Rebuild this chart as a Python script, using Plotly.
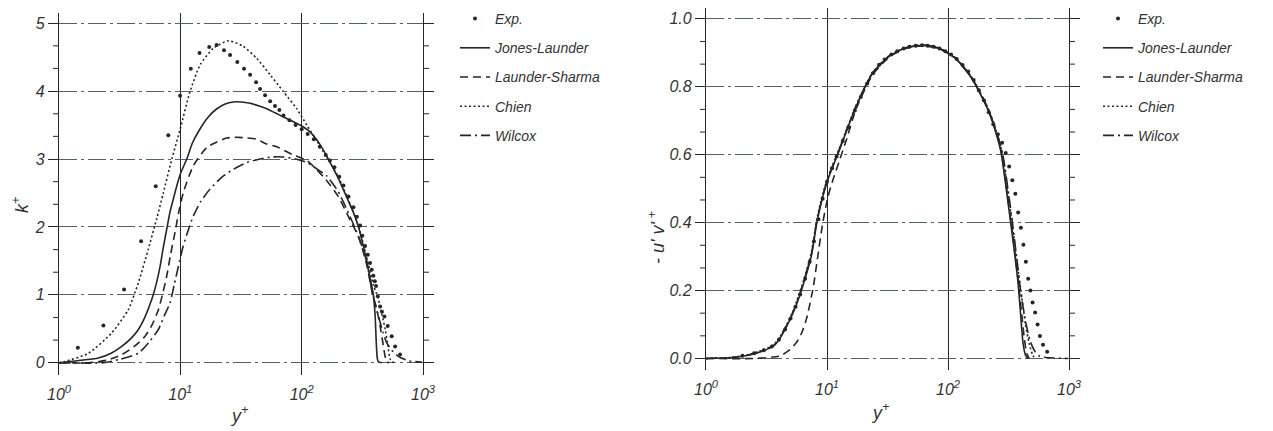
import plotly.graph_objects as go

# ---------------- Left panel: k+ vs y+ ----------------
k_exp_y = [1.43, 2.32, 3.44, 4.75, 6.27, 7.96, 9.95, 12.2, 14.4, 17.3, 19.9, 22.9, 25.7, 29.5, 33.5,
           37.6, 42.1, 45.4, 49.9, 55.0, 60.3, 65.5, 70.8, 79.4, 89.1, 100, 112, 126, 141, 158,
           171, 186, 204, 221, 243, 267, 285, 303, 316, 333, 351, 366, 378, 390, 401,
           410, 424, 443, 459, 481, 512, 552, 589, 647]
k_exp_v = [0.22, 0.55, 1.08, 1.79, 2.60, 3.35, 3.93, 4.33, 4.56, 4.65, 4.68, 4.60, 4.53, 4.43, 4.33,
           4.24, 4.13, 4.03, 3.94, 3.85, 3.78, 3.72, 3.64, 3.57, 3.50, 3.44, 3.37, 3.29, 3.18, 3.06,
           2.98, 2.88, 2.74, 2.61, 2.45, 2.29, 2.15, 2.02, 1.87, 1.72, 1.59, 1.47, 1.37, 1.28, 1.20,
           1.13, 0.98, 0.83, 0.75, 0.68, 0.54, 0.39, 0.24, 0.12]

k_jl_y = [1.0, 1.41, 2.11, 2.69, 3.29, 3.98, 4.51, 5.13, 5.81, 6.31, 6.81, 7.24, 7.73, 8.22, 8.75,
          9.33, 10.0, 11.3, 12.6, 14.6, 17.0, 20.0, 23.4, 27.4, 31.6, 37.6, 44.7, 51.5, 60.3, 70.8,
          83.2, 97.0, 117, 141, 166, 200, 240, 269, 294, 324, 355, 376, 390, 403, 412, 419, 427, 457]
k_jl_v = [0.0, 0.03, 0.07, 0.14, 0.24, 0.37, 0.49, 0.68, 0.93, 1.15, 1.42, 1.70, 1.97, 2.22, 2.41,
          2.60, 2.78, 3.0, 3.24, 3.45, 3.62, 3.74, 3.81, 3.84, 3.84, 3.82, 3.78, 3.74, 3.68, 3.62,
          3.56, 3.50, 3.40, 3.22, 3.0, 2.72, 2.40, 2.20, 2.0, 1.70, 1.37, 1.15, 1.0, 0.7, 0.3, 0.08, 0.02, 0.0]

k_ls_y = [1.0, 1.75, 2.51, 3.29, 4.17, 5.12, 5.89, 6.59, 7.16, 7.73, 8.32, 9.04, 9.66, 10.6, 12.8,
          16.5, 20.0, 24.1, 29.2, 35.2, 42.7, 51.5, 62.4, 85.1, 110, 132, 158, 200, 251, 295,
          343, 385, 417, 442, 462, 484, 501, 525]
k_ls_v = [0.0, 0.0, 0.04, 0.12, 0.24, 0.39, 0.57, 0.78, 1.02, 1.28, 1.60, 1.92, 2.20, 2.51, 2.90,
          3.17, 3.25, 3.31, 3.32, 3.31, 3.29, 3.22, 3.18, 3.06, 2.98, 2.85, 2.70, 2.45, 2.10, 1.85,
          1.45, 1.0, 0.78, 0.55, 0.35, 0.12, 0.02, 0.0]

k_ch_y = [1.0, 1.12, 1.75, 2.72, 3.72, 4.51, 5.44, 6.38, 7.24, 8.51, 10.0, 12.0, 14.6, 18.7, 24.9,
          33.0, 42.7, 55.0, 70.8, 91.2, 110, 132, 158, 200, 240, 295, 355, 389, 427, 457,
          488, 513, 537, 575]
k_ch_v = [0.0, 0.02, 0.14, 0.44, 0.78, 1.18, 1.67, 2.12, 2.50, 3.0, 3.45, 3.99, 4.39, 4.63, 4.74,
          4.66, 4.48, 4.24, 3.99, 3.74, 3.50, 3.28, 3.05, 2.74, 2.42, 2.0, 1.45, 1.15, 0.95, 0.72,
          0.5, 0.25, 0.05, 0.0]

k_wi_y = [1.0, 2.32, 3.16, 4.51, 5.50, 6.59, 7.41, 8.22, 8.91, 9.64, 10.5, 11.5, 12.8, 14.8, 17.6,
          21.9, 27.4, 35.5, 45.4, 56.2, 70.6, 89.1, 110, 132, 161, 200, 251, 295, 343, 380,
          427, 468, 501, 550, 631, 759, 977]
k_wi_v = [0.0, 0.0, 0.05, 0.14, 0.30, 0.49, 0.70, 0.88, 1.15, 1.42, 1.70, 1.93, 2.16, 2.38, 2.56,
          2.73, 2.85, 2.95, 3.0, 3.03, 3.03, 3.0, 2.95, 2.86, 2.75, 2.52, 2.15, 1.85, 1.50, 1.05,
          0.70, 0.45, 0.30, 0.19, 0.09, 0.03, 0.01]

# ---------------- Right panel: -u'v'+ vs y+ ----------------
uv_exp_y = [2.0, 2.5, 3.0, 3.5, 4.0, 4.5, 5.0, 5.5, 6.0, 6.6, 7.2, 7.8, 8.5, 9.2, 10.0, 11.0, 12.0,
            13.5, 15.0, 17.0, 19.0, 21.5, 24.0, 27.0, 30.0, 34.0, 38.0, 43.0, 48.0, 54.0, 61.0,
            68.0, 76.0, 85.0, 95.0, 106, 118, 132, 147, 163, 180, 198, 217, 237, 258, 280, 300,
            320, 340, 360, 380, 400, 420, 440, 460, 480, 500, 525, 550, 575, 610, 660]
uv_exp_v = [0.008, 0.015, 0.024, 0.035, 0.055, 0.085, 0.118, 0.152, 0.188, 0.235, 0.285, 0.345,
            0.41, 0.47, 0.52, 0.56, 0.595, 0.64, 0.68, 0.73, 0.77, 0.81, 0.84, 0.865, 0.88, 0.895,
            0.905, 0.913, 0.918, 0.921, 0.922, 0.921, 0.918, 0.913, 0.905, 0.895, 0.882, 0.864,
            0.845, 0.82, 0.79, 0.76, 0.725, 0.69, 0.66, 0.635, 0.605, 0.565, 0.525, 0.485, 0.43,
            0.385, 0.335, 0.285, 0.235, 0.20, 0.165, 0.135, 0.10, 0.066, 0.04, 0.02]

uv_jl_y = [1.0, 1.58, 2.29, 2.96, 3.61, 4.06, 4.57, 5.24, 5.75, 6.31, 7.41, 8.24, 9.23, 10.2, 12.7,
           17.4, 23.8, 32.7, 44.7, 61.2, 83.2, 115, 157, 214, 251, 275, 324, 355, 380, 398,
           417, 437, 457]
uv_jl_v = [0.0, 0.002, 0.01, 0.022, 0.036, 0.058, 0.09, 0.134, 0.17, 0.213, 0.30, 0.40, 0.477, 0.528,
           0.615, 0.742, 0.84, 0.89, 0.914, 0.922, 0.914, 0.884, 0.825, 0.732, 0.66, 0.605, 0.42,
           0.31, 0.22, 0.13, 0.045, 0.01, 0.0]

uv_ls_y = [1.0, 2.51, 4.06, 4.79, 5.57, 6.17, 6.75, 7.64, 8.39, 9.23, 10.2, 11.2, 12.6, 14.5, 17.4,
           23.8, 32.7, 44.7, 61.2, 83.2, 115, 157, 214, 251, 275, 324, 355, 380, 407, 427, 447, 468]
uv_ls_v = [0.0, 0.0, 0.007, 0.022, 0.046, 0.075, 0.115, 0.203, 0.30, 0.40, 0.477, 0.526, 0.58, 0.645,
           0.735, 0.835, 0.888, 0.913, 0.921, 0.913, 0.884, 0.826, 0.735, 0.665, 0.61, 0.43, 0.32,
           0.23, 0.13, 0.06, 0.015, 0.0]

uv_ch_y = [1.0, 1.58, 2.29, 2.96, 3.61, 4.06, 4.57, 5.24, 5.75, 6.31, 7.41, 8.24, 9.23, 10.2, 12.7,
           17.4, 23.8, 32.7, 44.7, 61.2, 83.2, 115, 157, 214, 251, 282, 316, 347, 380, 407,
           437, 468, 501, 525]
uv_ch_v = [0.0, 0.003, 0.012, 0.025, 0.04, 0.062, 0.095, 0.14, 0.18, 0.222, 0.31, 0.41, 0.485, 0.535,
           0.62, 0.745, 0.842, 0.892, 0.915, 0.923, 0.915, 0.886, 0.828, 0.737, 0.67, 0.60, 0.48,
           0.37, 0.26, 0.18, 0.10, 0.045, 0.01, 0.0]

uv_wi_y = [1.0, 1.58, 2.29, 2.96, 3.61, 4.06, 4.57, 5.24, 5.75, 6.31, 7.41, 8.24, 9.23, 10.2, 12.7,
           17.4, 23.8, 32.7, 44.7, 61.2, 83.2, 115, 157, 214, 251, 282, 324, 363, 398, 437,
           479, 525, 575, 692, 977]
uv_wi_v = [0.0, 0.002, 0.011, 0.024, 0.038, 0.06, 0.092, 0.137, 0.175, 0.218, 0.305, 0.405, 0.48,
           0.532, 0.618, 0.744, 0.841, 0.891, 0.915, 0.923, 0.915, 0.885, 0.827, 0.736, 0.668,
           0.605, 0.46, 0.32, 0.2, 0.11, 0.05, 0.02, 0.006, 0.002, 0.0]

names = ["Exp.", "Jones-Launder", "Launder-Sharma", "Chien", "Wilcox"]
x_tickvals = [1, 10, 100, 1000]
x_ticktext = ["10<sup>0</sup>", "10<sup>1</sup>", "10<sup>2</sup>", "10<sup>3</sup>"]
k_tick_step = 1
uv_tick_step = 0.2
k_ntick = 5
uv_ntick = 5
k_range = [-0.18, 5.15]
uv_range = [-0.034, 1.032]

INK = "#262626"
GRID_H = "#4f6274"
FONT = "Liberation Sans"

dashes = {"Jones-Launder": "solid", "Launder-Sharma": "8px,5px", "Chien": "2px,2.5px",
          "Wilcox": "11px,4px,2px,4px"}

fig = go.Figure()

def add_panel(xa, ya, legend, exp, curves):
    fig.add_trace(go.Scatter(x=exp[0], y=exp[1], mode="markers", name=names[0],
                             marker=dict(size=4, color=INK), xaxis=xa, yaxis=ya,
                             legend=legend, legendgroup=legend + names[0]))
    for nm, (xx, yy) in zip(names[1:], curves):
        fig.add_trace(go.Scatter(x=xx, y=yy, mode="lines", name=nm,
                                 line=dict(color=INK, width=1.6, dash=dashes[nm], shape="spline",
                                           smoothing=0.6),
                                 xaxis=xa, yaxis=ya, legend=legend, legendgroup=legend + nm))

add_panel("x", "y", "legend", (k_exp_y, k_exp_v),
          [(k_jl_y, k_jl_v), (k_ls_y, k_ls_v), (k_ch_y, k_ch_v), (k_wi_y, k_wi_v)])
add_panel("x2", "y2", "legend2", (uv_exp_y, uv_exp_v),
          [(uv_jl_y, uv_jl_v), (uv_ls_y, uv_ls_v), (uv_ch_y, uv_ch_v), (uv_wi_y, uv_wi_v)])

W, H = 1273, 431
L_DOM = [59 / W, 423 / W]
R_DOM = [706 / W, 1069 / W]
tickfont = dict(family=FONT, size=16, color="#333333", style="italic")

def xaxis(dom, anchor):
    return dict(domain=dom, anchor=anchor, type="log", range=[0, 3], tickvals=x_tickvals,
                ticktext=x_ticktext, showgrid=True, gridcolor=INK, gridwidth=1.2,
                showline=False, zeroline=False, ticks="outside", ticklen=5,
                tickcolor="rgba(0,0,0,0)", tickfont=tickfont, automargin=False)

def yaxis(dom, anchor, rng, step, fmt):
    return dict(domain=dom, anchor=anchor, range=rng, tickmode="linear", tick0=0, dtick=step,
                tickformat=fmt, automargin=False,
                showgrid=True, gridcolor=GRID_H, gridwidth=1.3, griddash="18px,4px,3px,4px",
                zeroline=False, showline=True, linecolor=INK, linewidth=1.3, mirror="ticks",
                ticks="outside", ticklen=10, tickwidth=1.3, tickcolor=INK, tickfont=tickfont)

# minor tick marks (one third of a major step) on both vertical frame lines
MINOR_LEN = 6 / W
def add_minor_ticks(yref, dom, step, nmajor):
    for i in range(nmajor):
        for j in (1, 2):
            v = (i + j / 3) * step
            for x0, x1 in ((dom[0] - MINOR_LEN, dom[0]), (dom[1], dom[1] + MINOR_LEN)):
                fig.add_shape(type="line", xref="paper", yref=yref, x0=x0, x1=x1, y0=v, y1=v,
                              line=dict(color="#3a3a3a", width=1.1), layer="above")

add_minor_ticks("y", L_DOM, k_tick_step, k_ntick)
add_minor_ticks("y2", R_DOM, uv_tick_step, uv_ntick)

legfont = dict(family=FONT, size=14, color="#333333", style="italic")

fig.update_layout(
    width=W, height=H, margin=dict(l=0, r=0, t=0, b=0, autoexpand=False),
    paper_bgcolor="white", plot_bgcolor="white", showlegend=True,
    xaxis=xaxis(L_DOM, "y"),
    yaxis=yaxis([1 - 375 / H, 1 - 13 / H], "x", k_range, k_tick_step, "d"),
    xaxis2=xaxis(R_DOM, "y2"),
    yaxis2=yaxis([1 - 370 / H, 1 - 8 / H], "x2", uv_range, uv_tick_step, ".1f"),
    legend=dict(x=455 / W, y=1 - 3 / H, xanchor="left", yanchor="top", bgcolor="rgba(0,0,0,0)",
                font=legfont, traceorder="grouped", tracegroupgap=8, itemwidth=30),
    legend2=dict(x=1098 / W, y=1 - 3 / H, xanchor="left", yanchor="top", bgcolor="rgba(0,0,0,0)",
                 font=legfont, traceorder="grouped", tracegroupgap=8, itemwidth=30),
)

titlefont = dict(family=FONT, size=18, color="#333333", style="italic")
annots = [
    dict(text="k<sup>+</sup>", x=20 / W, y=1 - 205 / H, textangle=-90),
    dict(text="y<sup>+</sup>", x=239 / W, y=1 - 414 / H, textangle=0),
    dict(text="- u' v'<sup> +</sup>", x=657 / W, y=1 - 238 / H, textangle=-90),
    dict(text="y<sup>+</sup>", x=880 / W, y=1 - 411 / H, textangle=0),
]
for a in annots:
    fig.add_annotation(xref="paper", yref="paper", showarrow=False, font=titlefont,
                       xanchor="center", yanchor="middle", **a)

fig.write_html("out.html")
